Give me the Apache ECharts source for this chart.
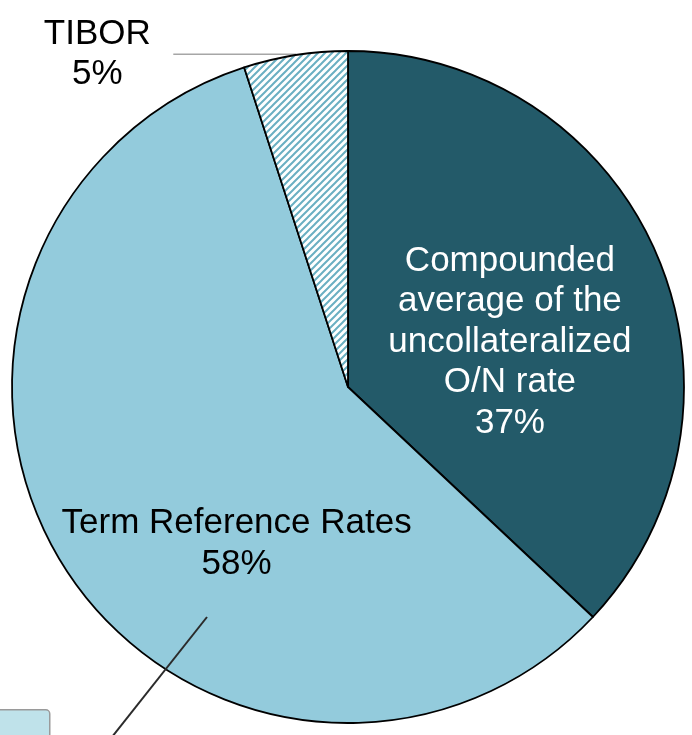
<!DOCTYPE html>
<html>
<head>
<meta charset="utf-8">
<script src="https://cdn.jsdelivr.net/npm/echarts@6/dist/echarts.min.js"></script>
<style>
  html, body { margin: 0; padding: 0; background: #fff; }
  #main { width: 692px; height: 735px; }
</style>
</head>
<body>
<div id="main"></div>
<script>
// slice data, clockwise from 12 o'clock
var names = ['Compounded\naverage of the\nuncollateralized\nO/N rate', 'Term Reference Rates', 'TIBOR'];
var values = [37, 58, 5];
var colors = ['#235a69', '#93cbdc', null];

// diagonal hatch for TIBOR
function hatch() {
  var p = 7;
  var c = document.createElement('canvas');
  c.width = p; c.height = p;
  var ctx = c.getContext('2d');
  ctx.fillStyle = '#ffffff';
  ctx.fillRect(0, 0, p, p);
  ctx.strokeStyle = '#6aafc2';
  ctx.lineWidth = 2;
  ctx.beginPath();
  ctx.moveTo(-1, p + 1); ctx.lineTo(p + 1, -1);
  ctx.moveTo(-1, 1); ctx.lineTo(1, -1);
  ctx.moveTo(p - 1, p + 1); ctx.lineTo(p + 1, p - 1);
  ctx.stroke();
  return c;
}

var chart = echarts.init(document.getElementById('main'));
var txt = { fontFamily: 'Liberation Sans, Arial, sans-serif', fontSize: 35, lineHeight: 40.5 };

var data = [
  {
    value: values[0], name: names[0],
    itemStyle: { color: colors[0] },
    label: Object.assign({ position: 'inside', color: '#fff', offset: [5, 23] }, txt)
  },
  {
    value: values[1], name: names[1],
    itemStyle: { color: colors[1] },
    label: Object.assign({ position: 'inside', color: '#000', offset: [33, 65] }, txt)
  },
  {
    value: values[2], name: names[2],
    itemStyle: { color: { image: hatch(), repeat: 'repeat' } },
    label: {
      position: 'outside',
      formatter: '{a|{b}}\n{a|{d}%}',
      distanceToLabelLine: 14,
      rich: { a: Object.assign({ color: '#000', width: 124, align: 'center' }, txt) }
    },
    labelLine: { show: true, length: 1, length2: 122, lineStyle: { color: '#a6a6a6', width: 1.5 } }
  }
];

chart.setOption({
  animation: false,
  series: [{
    type: 'pie',
    center: [348, 387],
    radius: 336,
    startAngle: 90,
    clockwise: true,
    avoidLabelOverlap: false,
    itemStyle: { borderColor: '#000', borderWidth: 1.8 },
    label: { formatter: '{b}\n{d}%' },
    labelLine: { show: false },
    emphasis: { disabled: true },
    data: data
  }],
  graphic: [
    {
      type: 'rect', left: -6, top: 709, z: 100,
      shape: { width: 55, height: 40, r: 4 },
      style: { fill: '#bfe2ea', stroke: '#9a9a9a', lineWidth: 1.5 }
    },
    {
      type: 'line', z: 100,
      shape: { x1: 207, y1: 617, x2: 112, y2: 737 },
      style: { stroke: '#2b2b2b', lineWidth: 2 }
    }
  ]
});
</script>
</body>
</html>
